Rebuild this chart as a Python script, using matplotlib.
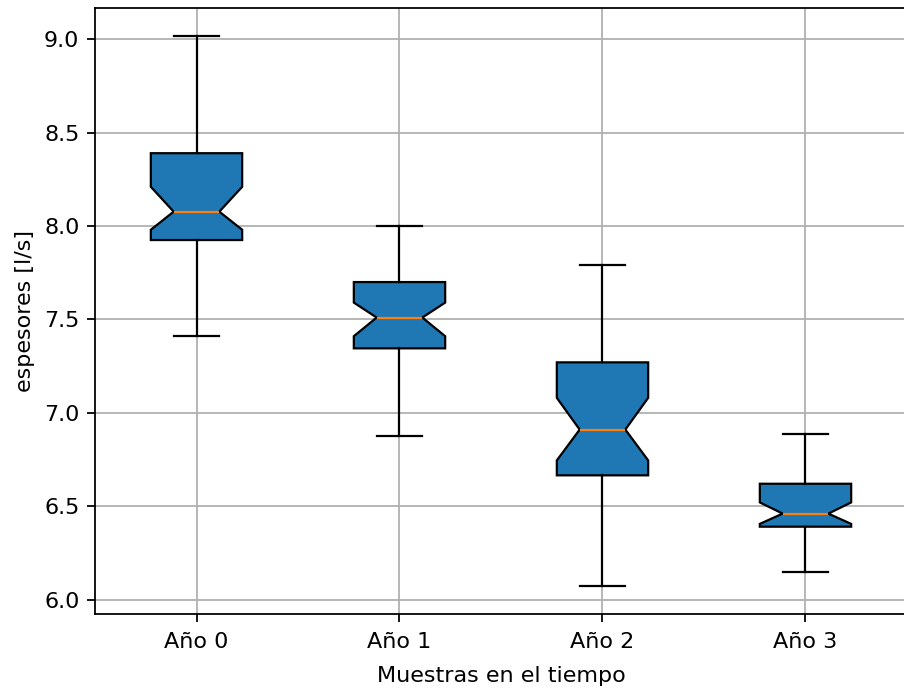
import matplotlib
matplotlib.use('Agg')
import matplotlib.pyplot as plt

# valores
labels = ['Año 0', 'Año 1', 'Año 2', 'Año 3']
whislo = [7.41, 6.875, 6.07, 6.15]
q1 = [7.925, 7.345, 6.665, 6.39]
med = [8.077, 7.51, 6.91, 6.46]
q3 = [8.39, 7.70, 7.27, 6.62]
whishi = [9.02, 8.0, 7.79, 6.885]
cilo = [7.98, 7.41, 6.745, 6.405]
cihi = [8.21, 7.59, 7.08, 6.52]

DPI = 160
fig = plt.figure(figsize=(904 / DPI, 689 / DPI), dpi=DPI)
ax = fig.add_axes([95 / 904, 75 / 689, 812 / 904, 606 / 689])

stats = []
for i in range(len(labels)):
    stats.append({'label': labels[i], 'whislo': whislo[i], 'q1': q1[i], 'med': med[i],
                  'q3': q3[i], 'whishi': whishi[i], 'cilo': cilo[i], 'cihi': cihi[i],
                  'fliers': []})

ax.bxp(stats, shownotches=True, patch_artist=True, showfliers=False,
       boxprops={'facecolor': '#1f77b4'})
ax.set_xlim(0.5, 4.5)
ax.grid(True)
ax.tick_params(axis='x', pad=4.5)
ax.set_xlabel('Muestras en el tiempo', labelpad=6.5)
ax.set_ylabel('espesores [l/s]')

fig.savefig('out.png', dpi=DPI)
